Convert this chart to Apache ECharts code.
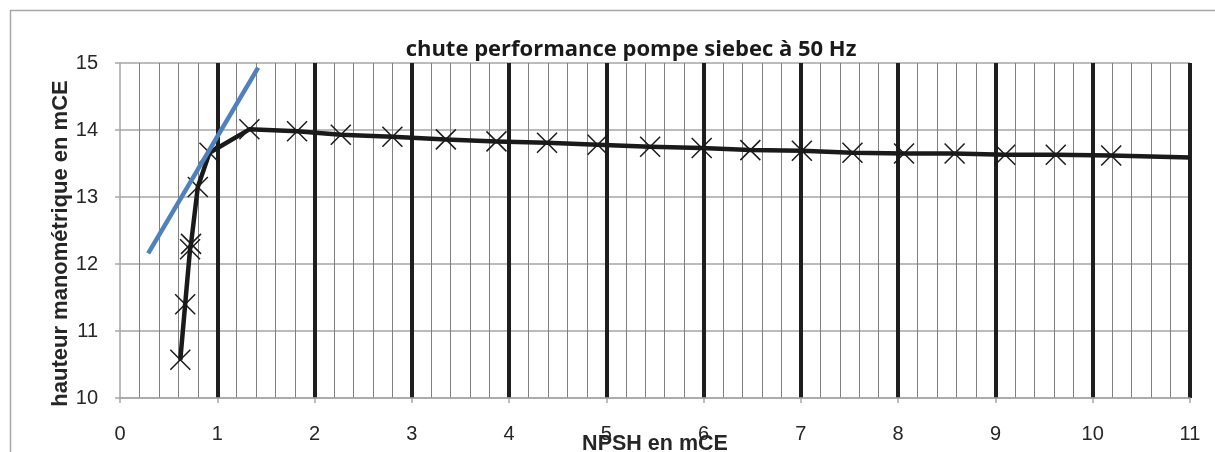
<!DOCTYPE html>
<html>
<head>
<meta charset="utf-8">
<script src="https://cdn.jsdelivr.net/npm/echarts@6/dist/echarts.min.js"></script>
<style>
html,body{margin:0;padding:0;background:#fff;}
#chart{width:1215px;height:452px;}
</style>
</head>
<body>
<div id="chart"></div>
<script>
// NPSH (mCE) of measured points
const npsh = [0.62, 0.67, 0.72, 0.73, 0.80, 0.92, 1.33, 1.82, 2.27, 2.80, 3.35, 3.87, 4.39, 4.91, 5.45, 5.98, 6.48, 7.01, 7.53, 8.06, 8.58, 9.10, 9.62, 10.19];
// head (mCE) of measured points
const head = [10.57, 11.40, 12.22, 12.30, 13.15, 13.66, 14.01, 13.98, 13.93, 13.90, 13.86, 13.83, 13.81, 13.78, 13.75, 13.73, 13.70, 13.69, 13.66, 13.65, 13.65, 13.63, 13.63, 13.62];
// end point of the curve (no marker)
const endNpsh = [11];
const endHead = [13.59];
// blue tangent line
const tangentNpsh = [0.29, 1.42];
const tangentHead = [12.16, 14.93];
// axis ticks
const xTicks = [0, 1, 2, 3, 4, 5, 6, 7, 8, 9, 10, 11];
const yTicks = [10, 11, 12, 13, 14, 15];

const titleText = 'chute performance pompe siebec à 50 Hz';
const xName = 'NPSH en mCE';
const yName = 'hauteur manométrique en mCE';

const pts = npsh.map((x, i) => [x, head[i]]);
const linePts = pts.concat(endNpsh.map((x, i) => [x, endHead[i]]));
const tangentPts = tangentNpsh.map((x, i) => [x, tangentHead[i]]);

const chart = echarts.init(document.getElementById('chart'), null, {renderer: 'canvas'});
const gray = '#a6a6a6';
chart.setOption({
  animation: false,
  backgroundColor: '#fff',
  title: {
    text: titleText,
    left: 626,
    top: 34,
    textAlign: 'center',
    textStyle: {fontFamily: 'Open Sans', fontWeight: 'bold', fontSize: 22, color: '#1a1a1a'}
  },
  graphic: [{
    type: 'rect',
    shape: {x: 10.5, y: 10.5, width: 1400, height: 700},
    style: {fill: 'none', stroke: gray, lineWidth: 1.5},
    silent: true
  }],
  grid: {left: 120, right: 25, top: 63, bottom: 54, containLabel: false, outerBoundsMode: 'none'},
  xAxis: {
    type: 'value',
    min: xTicks[0],
    max: xTicks[xTicks.length - 1],
    interval: 1,
    name: xName,
    nameLocation: 'middle',
    nameGap: 35,
    nameMoveOverlap: false,
    nameTextStyle: {fontFamily: 'Liberation Sans', fontWeight: 'bold', fontSize: 21.5, color: '#262626'},
    axisLine: {show: true, lineStyle: {color: gray, width: 1.5}},
    axisTick: {show: true, length: 5, lineStyle: {color: gray, width: 1.5}},
    axisLabel: {margin: 26, fontFamily: 'Liberation Sans', fontSize: 20, color: '#262626'},
    splitLine: {show: true, showMinLine: false, lineStyle: {color: '#1e1e1e', width: 4}},
    minorTick: {show: false, splitNumber: 5},
    minorSplitLine: {show: true, lineStyle: {color: '#808080', width: 1}}
  },
  yAxis: {
    type: 'value',
    min: yTicks[0],
    max: yTicks[yTicks.length - 1],
    interval: 1,
    name: yName,
    nameLocation: 'middle',
    nameRotate: 90,
    nameGap: 48,
    nameMoveOverlap: false,
    nameTextStyle: {fontFamily: 'Liberation Sans', fontWeight: 'bold', fontSize: 22, color: '#262626', padding: [0, 26, 0, 0]},
    axisLine: {show: true, lineStyle: {color: gray, width: 1.5}},
    axisTick: {show: true, length: 5, lineStyle: {color: gray, width: 1.5}},
    axisLabel: {margin: 22, fontFamily: 'Liberation Sans', fontSize: 20, color: '#262626'},
    splitLine: {show: true, lineStyle: {color: gray, width: 1.5}}
  },
  series: [
    {
      type: 'line',
      data: linePts,
      showSymbol: false,
      lineStyle: {color: '#1a1a1a', width: 4.5, join: 'round'},
      z: 3
    },
    {
      type: 'scatter',
      data: pts,
      symbol: 'path://M0,0L10,10M10,0L0,10',
      symbolSize: 20,
      itemStyle: {color: 'rgba(0,0,0,0)', borderColor: '#1a1a1a', borderWidth: 1.5, opacity: 1},
      z: 4
    },
    {
      type: 'line',
      data: tangentPts,
      showSymbol: false,
      lineStyle: {color: '#4f81bd', width: 4.5},
      z: 5
    }
  ]
});
</script>
</body>
</html>
